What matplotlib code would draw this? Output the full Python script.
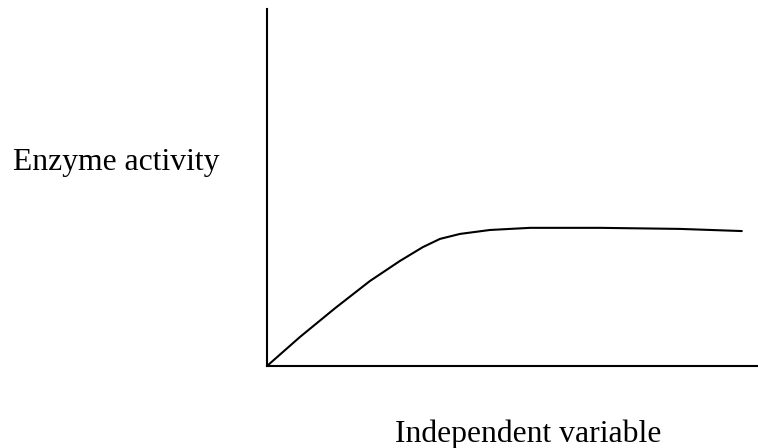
import matplotlib
matplotlib.use("Agg")
import matplotlib.pyplot as plt

# Curve (x and y in percent of the axis lengths)
x_vals = [0, 6.7, 13.9, 21.0, 27.1, 31.8, 35.3, 39.4, 45.5, 53.7, 68.0, 84.3, 96.9]
y_vals = [0, 8.1, 16.2, 23.8, 29.4, 33.3, 35.6, 37.0, 38.1, 38.7, 38.7, 38.4, 37.8]

y_label = "Enzyme activity"
x_label = "Independent variable"

W, H = 758, 448
fig = plt.figure(figsize=(W / 100, H / 100), dpi=100)

# Axes placed by pixel position of the reference
ax = fig.add_axes([267 / W, (H - 366) / H, (757 - 267) / W, (366 - 9) / H])
ax.plot(x_vals, y_vals, color="black", linewidth=1.5, clip_on=False,
        solid_joinstyle="round", solid_capstyle="round")
ax.set_xlim(0, 100)
ax.set_ylim(0, 100)

for side in ["top", "right"]:
    ax.spines[side].set_visible(False)
for side in ["left", "bottom"]:
    ax.spines[side].set_linewidth(1.5)
    ax.spines[side].set_color("black")
ax.set_xticks([])
ax.set_yticks([])

font = dict(family="Liberation Serif", size=22.8, color="black")
fig.text(13 / W, (H - 170) / H, y_label, va="baseline", ha="left", **font)
fig.text(395 / W, (H - 442) / H, x_label, va="baseline", ha="left", **font)

fig.savefig("out.png", dpi=100)
